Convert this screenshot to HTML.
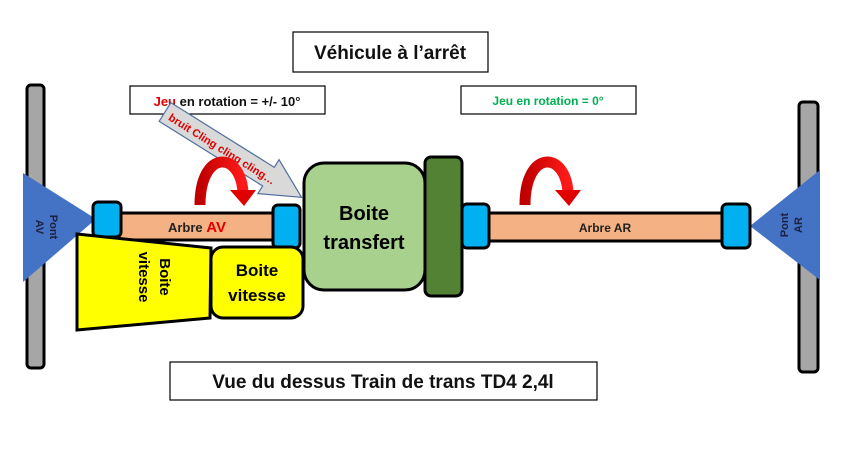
<!DOCTYPE html>
<html><head><meta charset="utf-8"><style>body{margin:0;background:#fff}svg{display:block}</style></head><body>
<svg width="851" height="459" viewBox="0 0 851 459" xmlns="http://www.w3.org/2000/svg" font-family="Liberation Sans, sans-serif" font-weight="bold">
<defs><linearGradient id="rg" x1="0" x2="1"><stop offset="0" stop-color="#c00000"/><stop offset="1" stop-color="#ff1a1a"/></linearGradient></defs>
<!-- bars -->
<rect x="27" y="85" width="17" height="283" rx="4" fill="#a6a6a6" stroke="#000" stroke-width="3"/>
<rect x="799" y="102" width="19" height="270" rx="4" fill="#a6a6a6" stroke="#000" stroke-width="3"/>
<!-- pont AV -->
<polygon points="23,173 23,282 96,219" fill="#4472c4"/>
<text transform="translate(50,227) rotate(90)" text-anchor="middle" font-size="11" fill="#1f1f3f">Pont</text>
<text transform="translate(36,227) rotate(90)" text-anchor="middle" font-size="11" fill="#1f1f3f">AV</text>
<!-- pont AR -->
<polygon points="820,170 820,280 750,226" fill="#4472c4"/>
<text transform="translate(788,225) rotate(-90)" text-anchor="middle" font-size="11" fill="#1f1f3f">Pont</text>
<text transform="translate(802,225) rotate(-90)" text-anchor="middle" font-size="11" fill="#1f1f3f">AR</text>
<!-- shafts -->
<rect x="118" y="213" width="158" height="27" rx="4" fill="#f4b183" stroke="#000" stroke-width="3"/>
<text x="197" y="232" text-anchor="middle" font-size="13" fill="#222">Arbre <tspan fill="#e00000" font-size="15">AV</tspan></text>
<rect x="487" y="213" width="237" height="28" rx="4" fill="#f4b183" stroke="#000" stroke-width="3"/>
<text x="605" y="232" text-anchor="middle" font-size="12" fill="#222">Arbre AR</text>
<!-- couplers -->
<rect x="93" y="202" width="28" height="35" rx="5" fill="#00b0f0" stroke="#000" stroke-width="3"/>
<rect x="273" y="205" width="27" height="43" rx="5" fill="#00b0f0" stroke="#000" stroke-width="3"/>
<rect x="462" y="204" width="27" height="44" rx="5" fill="#00b0f0" stroke="#000" stroke-width="3"/>
<rect x="722" y="204" width="28" height="44" rx="5" fill="#00b0f0" stroke="#000" stroke-width="3"/>
<!-- gearbox -->
<polygon points="77,234 211,248 210,318 77,330" fill="#ffff00" stroke="#000" stroke-width="3"/>
<text transform="translate(160,277) rotate(90)" text-anchor="middle" font-size="15" fill="#000">Boite</text>
<text transform="translate(139,277) rotate(90)" text-anchor="middle" font-size="15" fill="#000">vitesse</text>
<rect x="211" y="247" width="92" height="71" rx="12" fill="#ffff00" stroke="#000" stroke-width="3"/>
<text x="257" y="276" text-anchor="middle" font-size="17">Boite</text>
<text x="257" y="301" text-anchor="middle" font-size="17">vitesse</text>
<!-- transfer -->
<rect x="304" y="163" width="121" height="127" rx="20" fill="#a9d18e" stroke="#000" stroke-width="3"/>
<text x="364" y="220" text-anchor="middle" font-size="20">Boite</text>
<text x="364" y="249" text-anchor="middle" font-size="20">transfert</text>
<rect x="425" y="157" width="37" height="139" rx="6" fill="#548235" stroke="#000" stroke-width="3"/>
<!-- boxes -->
<rect x="293" y="32" width="195" height="40" fill="#fff" stroke="#000" stroke-width="1.2"/>
<text x="390" y="59" text-anchor="middle" font-size="19" fill="#111">Véhicule à l’arrêt</text>
<rect x="130" y="86" width="195" height="28" fill="#fff" stroke="#000" stroke-width="1.2"/>
<text x="227" y="106" text-anchor="middle" font-size="13" fill="#111"><tspan fill="#e00000">Jeu</tspan> en rotation = +/- 10°</text>
<rect x="461" y="86" width="175" height="28" fill="#fff" stroke="#000" stroke-width="1.2"/>
<text x="548" y="105" text-anchor="middle" font-size="12" fill="#00b050">Jeu en rotation = 0°</text>
<rect x="170" y="362" width="427" height="38" fill="#fff" stroke="#000" stroke-width="1.2"/>
<text x="383" y="388" text-anchor="middle" font-size="19" fill="#111">Vue du dessus Train de trans TD4 2,4l</text>
<!-- gray arrow -->
<g transform="translate(165,112) rotate(32)">
<polygon points="0,-11 122,-11 122,-20 161,0 122,20 122,11 0,11" fill="#d9d9d9" stroke="#4f6fa0" stroke-width="1.2"/>
<text x="68" y="5" text-anchor="middle" font-size="11" fill="#e00000">bruit Cling cling cling…</text>
</g>
<!-- curved arrows -->
<g id="ca">
<path d="M200,205 C200,150 240,150 243,192" fill="none" stroke="url(#rg)" stroke-width="11"/>
<polygon points="230,190 256,190 244,206" fill="#e00000"/>
</g>
<use href="#ca" transform="translate(325,0)"/>
</svg>
</body></html>
